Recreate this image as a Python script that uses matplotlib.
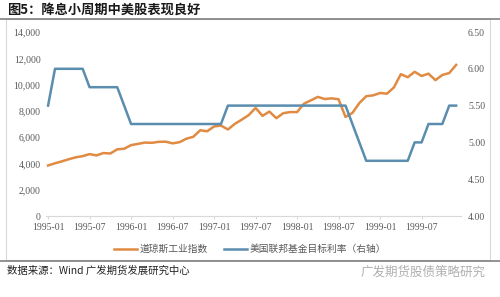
import matplotlib
matplotlib.use("Agg")
import matplotlib.pyplot as plt
from matplotlib.lines import Line2D
from matplotlib.patches import Rectangle

months = [f"{y}-{m:02d}" for y in range(1995, 2000) for m in range(1, 13)]
dow = [3844, 4011, 4158, 4321, 4465, 4556, 4708, 4611, 4789, 4755, 5074, 5117,
       5395, 5486, 5587, 5569, 5643, 5655, 5529, 5616, 5882, 6029, 6522, 6448,
       6813, 6878, 6583, 7009, 7331, 7673, 8223, 7622, 7945, 7442, 7823, 7908,
       7907, 8546, 8800, 9063, 8900, 8952, 8883, 7539, 7843, 8592, 9117, 9181,
       9359, 9307, 9786, 10789, 10560, 10971, 10655, 10829, 10337, 10730, 10878, 11497]
fed = [5.50, 6.00, 6.00, 6.00, 6.00, 6.00, 5.75, 5.75, 5.75, 5.75, 5.75, 5.50,
       5.25, 5.25, 5.25, 5.25, 5.25, 5.25, 5.25, 5.25, 5.25, 5.25, 5.25, 5.25,
       5.25, 5.25, 5.50, 5.50, 5.50, 5.50, 5.50, 5.50, 5.50, 5.50, 5.50, 5.50,
       5.50, 5.50, 5.50, 5.50, 5.50, 5.50, 5.50, 5.50, 5.25, 5.00, 4.75, 4.75,
       4.75, 4.75, 4.75, 4.75, 4.75, 5.00, 5.00, 5.25, 5.25, 5.25, 5.50, 5.50]
xtick_labels = ["1995-01", "1995-07", "1996-01", "1996-07", "1997-01",
                "1997-07", "1998-01", "1998-07", "1999-01", "1999-07"]
left_ticks = [0, 2000, 4000, 6000, 8000, 10000, 12000, 14000]
right_ticks = [4.00, 4.50, 5.00, 5.50, 6.00, 6.50]

title = "图5：降息小周期中美股表现良好"
source = "数据来源：Wind 广发期货发展研究中心"
watermark = "广发期货股债策略研究"
label_dow = "道琼斯工业指数"
label_fed = "美国联邦基金目标利率（右轴）"

plt.rcParams['font.family'] = ['Noto Sans CJK SC', 'DejaVu Sans']
ORANGE = "#E08A42"
BLUE = "#5A8DAE"
GRAY = "#595959"

W, H = 500, 297
fig = plt.figure(figsize=(5.0, 2.97), dpi=100)

def fx(px): return px / W
def fy(py): return 1 - py / H

# frame & separators
fig.add_artist(Rectangle((fx(6), fy(260)), fx(490) - fx(6), fy(19) - fy(260),
                         transform=fig.transFigure, fill=False, ec="#D9D9D9", lw=0.8))
fig.add_artist(Line2D([0, 1], [fy(19), fy(19)], transform=fig.transFigure, color="#808080", lw=1.2))
fig.add_artist(Line2D([0, 1], [fy(261), fy(261)], transform=fig.transFigure, color="#808080", lw=1.2))

fig.text(fx(7), fy(10), title, fontsize=9.5, fontweight="bold", va="center", ha="left", color="#1a1a1a")
fig.text(fx(7), fy(271), source, fontsize=7.5, va="center", ha="left", color="#222222")
fig.text(fx(486), fy(272), watermark, fontsize=9, va="center", ha="right", color="#B0B0B0")

n = len(months)
x = list(range(n))
ax = fig.add_axes([fx(46), fy(216), 415 / W, (216 - 32) / H])
ax.plot(x, dow, color=ORANGE, lw=1.8, solid_joinstyle="round")
ax.set_ylim(0, 14000)
ax.set_xlim(-0.3, n - 0.3)
ax.set_yticks(left_ticks)
ax.set_yticklabels([f"{v:,}" for v in left_ticks], fontfamily="Liberation Serif", fontsize=7, color=GRAY)
idx = [months.index(m) for m in xtick_labels]
ax.set_xticks(idx)
ax.set_xticklabels(xtick_labels, fontfamily="Liberation Serif", fontsize=7, color=GRAY)
ax.tick_params(axis="y", length=0, pad=4)
ax.tick_params(axis="x", length=2, color="#D9D9D9", pad=3)
for s in ["top", "right", "left"]:
    ax.spines[s].set_visible(False)
ax.spines["bottom"].set_color("#D9D9D9")

ax2 = ax.twinx()
ax2.plot(x, fed, color=BLUE, lw=1.8)
ax2.set_ylim(4.0, 6.5)
ax2.set_yticks(right_ticks)
ax2.set_yticklabels([f"{v:.2f}" for v in right_ticks], fontfamily="Liberation Serif", fontsize=7, color=GRAY)
ax2.tick_params(axis="y", length=0, pad=5)
for s in ["top", "right", "left", "bottom"]:
    ax2.spines[s].set_visible(False)

# legend
handles = [Line2D([], [], color=ORANGE, lw=1.8), Line2D([], [], color=BLUE, lw=1.8)]
fig.legend(handles, [label_dow, label_fed], loc="center", bbox_to_anchor=(fx(250), fy(249)),
           ncol=2, frameon=False, fontsize=7, handlelength=2.4, handletextpad=0.3,
           columnspacing=1.6, labelcolor=GRAY)

fig.savefig("out.png", dpi=100)
